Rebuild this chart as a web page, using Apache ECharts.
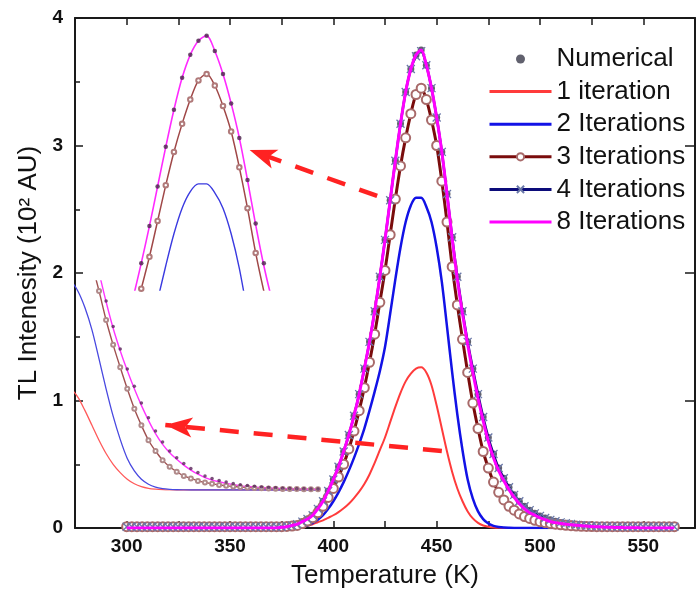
<!DOCTYPE html>
<html>
<head>
<meta charset="utf-8">
<script src="https://cdn.jsdelivr.net/npm/echarts@6/dist/echarts.min.js"></script>
<style>
  html, body { margin: 0; padding: 0; background: #fff; }
  #chart { width: 698px; height: 602px; }
</style>
</head>
<body>
<div id="chart"></div>
<script>
// Temperature samples (K)
const temps = [
  300,302.5,305,307.5,310,312.5,315,317.5,320,322.5,
  325,327.5,330,332.5,335,337.5,340,342.5,345,347.5,
  350,352.5,355,357.5,360,362.5,365,367.5,370,372.5,
  375,377.5,380,382.5,385,387.5,390,392.5,395,397.5,
  400,402.5,405,407.5,410,412.5,415,417.5,420,422.5,
  425,427.5,430,432.5,435,437.5,440,442.5,445,447.5,
  450,452.5,455,457.5,460,462.5,465,467.5,470,472.5,
  475,477.5,480,482.5,485,487.5,490,492.5,495,497.5,
  500,502.5,505,507.5,510,512.5,515,517.5,520,522.5,
  525,527.5,530,532.5,535,537.5,540,542.5,545,547.5,
  550,552.5,555,557.5,560,562.5,565
];

// TL intensity (10^2 AU)
const numerical = [
  0.01,0.01,0.01,0.01,0.01,0.01,0.01,0.01,0.01,0.01,
  0.01,0.01,0.01,0.01,0.01,0.01,0.01,0.01,0.01,0.01,
  0.01,0.01,0.01,0.01,0.01,0.01,0.01,0.01,0.01,0.01,
  0.01,0.015,0.02,0.03,0.05,0.07,0.10,0.15,0.21,0.29,
  0.38,0.48,0.60,0.73,0.88,1.05,1.25,1.46,1.70,1.97,
  2.26,2.57,2.88,3.17,3.42,3.60,3.71,3.75,3.63,3.45,
  3.22,2.95,2.62,2.28,1.97,1.70,1.46,1.25,1.05,0.87,
  0.71,0.58,0.47,0.39,0.32,0.26,0.21,0.17,0.14,0.115,
  0.095,0.078,0.064,0.053,0.044,0.037,0.031,0.026,0.022,0.019,
  0.016,0.014,0.013,0.012,0.011,0.01,0.01,0.01,0.01,0.01,
  0.01,0.01,0.01,0.01,0.01,0.01,0.01
];

const oneIteration = [
  0,0,0,0,0,0,0,0,0,0,
  0,0,0,0,0,0,0,0,0,0,
  0,0,0,0,0,0,0,0,0,0,
  0,0.002,0.004,0.008,0.013,0.02,0.03,0.045,0.06,0.08,
  0.10,0.125,0.155,0.19,0.235,0.285,0.345,0.42,0.51,0.61,
  0.71,0.83,0.95,1.06,1.15,1.21,1.25,1.26,1.22,1.12,
  0.96,0.78,0.60,0.44,0.31,0.21,0.13,0.075,0.04,0.02,
  0.01,0.004,0.001,0,0,0,0,0,0,0,
  0,0,0,0,0,0,0,0,0,0,
  0,0,0,0,0,0,0,0,0,0,
  0,0,0,0,0,0,0
];

const twoIterations = [
  0,0,0,0,0,0,0,0,0,0,
  0,0,0,0,0,0,0,0,0,0,
  0,0,0,0,0,0,0,0,0,0,
  0,0.002,0.005,0.008,0.012,0.02,0.04,0.065,0.10,0.15,
  0.21,0.28,0.36,0.45,0.55,0.66,0.78,0.92,1.07,1.23,
  1.42,1.68,1.95,2.20,2.40,2.53,2.59,2.59,2.52,2.40,
  2.20,1.93,1.58,1.22,0.89,0.61,0.38,0.23,0.13,0.07,
  0.035,0.017,0.008,0.003,0.001,0,0,0,0,0,
  0,0,0,0,0,0,0,0,0,0,
  0,0,0,0,0,0,0,0,0,0,
  0,0,0,0,0,0,0
];

const threeIterations = [
  0.01,0.01,0.01,0.01,0.01,0.01,0.01,0.01,0.01,0.01,
  0.01,0.01,0.01,0.01,0.01,0.01,0.01,0.01,0.01,0.01,
  0.01,0.01,0.01,0.01,0.01,0.01,0.01,0.01,0.01,0.01,
  0.01,0.012,0.015,0.02,0.035,0.055,0.08,0.12,0.17,0.24,
  0.31,0.40,0.50,0.62,0.76,0.92,1.10,1.30,1.52,1.77,
  2.02,2.30,2.58,2.84,3.06,3.25,3.40,3.45,3.36,3.20,
  3.00,2.72,2.40,2.05,1.75,1.48,1.22,0.98,0.78,0.60,
  0.47,0.36,0.28,0.22,0.17,0.14,0.11,0.09,0.075,0.06,
  0.05,0.042,0.035,0.03,0.025,0.021,0.018,0.015,0.013,0.012,
  0.011,0.01,0.01,0.01,0.01,0.01,0.01,0.01,0.01,0.01,
  0.01,0.01,0.01,0.01,0.01,0.01,0.01
];

const fourIterations = [
  0.01,0.01,0.01,0.01,0.01,0.01,0.01,0.01,0.01,0.01,
  0.01,0.01,0.01,0.01,0.01,0.01,0.01,0.01,0.01,0.01,
  0.01,0.01,0.01,0.01,0.01,0.01,0.01,0.01,0.01,0.01,
  0.01,0.015,0.02,0.03,0.05,0.07,0.10,0.15,0.21,0.29,
  0.38,0.48,0.60,0.73,0.88,1.05,1.25,1.46,1.70,1.97,
  2.26,2.57,2.88,3.17,3.42,3.60,3.70,3.74,3.63,3.45,
  3.22,2.95,2.62,2.28,1.97,1.70,1.46,1.25,1.05,0.87,
  0.71,0.58,0.47,0.39,0.32,0.26,0.21,0.17,0.14,0.115,
  0.095,0.078,0.064,0.053,0.044,0.037,0.031,0.026,0.022,0.019,
  0.016,0.014,0.013,0.012,0.011,0.01,0.01,0.01,0.01,0.01,
  0.01,0.01,0.01,0.01,0.01,0.01,0.01
];

const eightIterations = [
  0,0,0,0,0,0,0,0,0,0,
  0,0,0,0,0,0,0,0,0,0,
  0,0,0,0,0,0,0,0,0,0,
  0.005,0.01,0.02,0.03,0.05,0.07,0.10,0.15,0.21,0.29,
  0.38,0.48,0.60,0.73,0.88,1.05,1.25,1.46,1.70,1.97,
  2.26,2.57,2.88,3.17,3.42,3.60,3.71,3.75,3.63,3.45,
  3.22,2.95,2.62,2.27,1.95,1.68,1.44,1.22,1.02,0.84,
  0.68,0.55,0.45,0.37,0.30,0.24,0.19,0.15,0.12,0.10,
  0.08,0.065,0.05,0.042,0.035,0.03,0.025,0.021,0.018,0.015,
  0.012,0.01,0.008,0.006,0.005,0.004,0.003,0.002,0.002,0.001,
  0,0,0,0,0,0,0
];

// Legend entries
const seriesNames = ['Numerical', '1 iteration', '2 Iterations', '3 Iterations', '4 Iterations', '8 Iterations'];

// Dashed call-out arrows: [T, intensity] tail and head
const arrowTails = [[421.2, 2.604], [452.5, 0.604]];
const arrowHeads = [[359.5, 2.965], [318.7, 0.808]];

// Zoom windows for the two detail views [min, max]
const peakDetailT = [416, 468];
const peakDetailI = [1.76, 3.81];
const tailDetailT = [446.5, 532.5];
const tailDetailI = [0, 2.52];

const FONT = "'Liberation Sans', Arial, Helvetica, sans-serif";
const AXIS_COLOR = '#1a1a1a';
const X_MARK = 'path://M0,0L10,10M10,0L0,10';
const SMOOTH = 0.3;

const pairs = vals => temps.map((t, i) => [t, vals[i]]);

const chart = echarts.init(document.getElementById('chart'), null, { renderer: 'canvas' });

const hiddenAxis = (grid, range) => ({ type: 'value', gridIndex: grid, min: range[0], max: range[1], show: false });

function detailLine(name, xi, vals, color, width, extra) {
  return Object.assign({
    name: name, type: 'line', xAxisIndex: xi, yAxisIndex: xi,
    data: pairs(vals), symbol: 'none', clip: true, silent: true,
    smooth: SMOOTH,
    lineStyle: { color: color, width: width }, itemStyle: { color: color },
    z: 5
  }, extra || {});
}

function mainLine(name, vals, extra) {
  return Object.assign({
    name: name, type: 'line', xAxisIndex: 0, yAxisIndex: 0,
    data: pairs(vals), symbol: 'none', silent: true,
    smooth: SMOOTH, z: 3
  }, extra);
}

const option = {
  animation: false,
  backgroundColor: '#ffffff',
  textStyle: { fontFamily: FONT },
  grid: [
    { left: 75, top: 18, width: 632, height: 510 },
    { left: 120, top: 28, width: 170, height: 262 },
    { left: 75, top: 281, width: 243, height: 209 }
  ],
  legend: {
    orient: 'vertical', left: 483, top: 41,
    itemWidth: 62, itemHeight: 9, itemGap: 6.6,
    selectedMode: false,
    textStyle: { fontSize: 26, color: '#111', lineHeight: 26, fontFamily: FONT },
    lineStyle: { width: 3 },
    data: [
      { name: seriesNames[0], icon: 'circle' },
      { name: seriesNames[1], itemStyle: { opacity: 0 } },
      { name: seriesNames[2], itemStyle: { opacity: 0 } },
      { name: seriesNames[3] },
      { name: seriesNames[4] },
      { name: seriesNames[5], itemStyle: { opacity: 0 } }
    ]
  },
  xAxis: [
    {
      type: 'value', gridIndex: 0, position: 'bottom', min: 275, max: 575, interval: 25,
      name: 'Temperature (K)', nameLocation: 'middle', nameGap: 35,
      nameTextStyle: { fontSize: 26, color: '#111', fontFamily: FONT },
      axisLine: { onZero: false, lineStyle: { color: AXIS_COLOR, width: 2 } },
      axisTick: { inside: true, length: 7, lineStyle: { color: AXIS_COLOR, width: 1.5 } },
      axisLabel: {
        margin: 9, fontSize: 19, fontWeight: 'bold', color: '#111', fontFamily: FONT,
        formatter: v => (v % 50 === 0 ? String(v) : '')
      },
      splitLine: { show: false }
    },
    {
      type: 'value', gridIndex: 0, position: 'top', min: 275, max: 575, interval: 25,
      axisLine: { onZero: false, lineStyle: { color: AXIS_COLOR, width: 2 } },
      axisTick: { inside: true, length: 7, lineStyle: { color: AXIS_COLOR, width: 1.5 } },
      axisLabel: { show: false },
      splitLine: { show: false }
    },
    hiddenAxis(1, peakDetailT),
    hiddenAxis(2, tailDetailT)
  ],
  yAxis: [
    {
      type: 'value', gridIndex: 0, position: 'left', min: 0, max: 4, interval: 1,
      name: 'TL Intenesity (10² AU)', nameLocation: 'middle', nameGap: 33,
      nameTextStyle: { fontSize: 26, color: '#111', fontFamily: FONT },
      axisLine: { onZero: false, lineStyle: { color: AXIS_COLOR, width: 2 } },
      axisTick: { inside: true, length: 8, lineStyle: { color: AXIS_COLOR, width: 1.5 } },
      minorTick: { show: true, splitNumber: 2, length: 5, lineStyle: { color: AXIS_COLOR, width: 1.5 } },
      axisLabel: { margin: 12, fontSize: 19, fontWeight: 'bold', color: '#111', fontFamily: FONT },
      splitLine: { show: false },
      minorSplitLine: { show: false }
    },
    {
      type: 'value', gridIndex: 0, position: 'right', min: 0, max: 4, interval: 1,
      axisLine: { onZero: false, lineStyle: { color: AXIS_COLOR, width: 2 } },
      axisTick: { inside: true, length: 10, lineStyle: { color: AXIS_COLOR, width: 1.5 } },
      axisLabel: { show: false },
      splitLine: { show: false }
    },
    hiddenAxis(1, peakDetailI),
    hiddenAxis(2, tailDetailI)
  ],
  series: [
    {
      name: seriesNames[0], type: 'scatter', xAxisIndex: 0, yAxisIndex: 0,
      data: pairs(numerical), symbol: 'circle', symbolSize: 7,
      itemStyle: { color: '#3a3a4a' }, z: 2, silent: true
    },
    mainLine(seriesNames[1], oneIteration, {
      lineStyle: { color: '#ff3b3b', width: 2 }, itemStyle: { color: '#ff3b3b' },
      markLine: {
        silent: true, symbol: ['none', 'arrow'], symbolSize: [15, 27],
        label: { show: false },
        lineStyle: { color: '#ff2222', width: 4.5, type: [19, 15] },
        data: arrowTails.map((a, i) => [{ coord: a }, { coord: arrowHeads[i] }])
      }
    }),
    mainLine(seriesNames[2], twoIterations, {
      lineStyle: { color: '#1212e6', width: 2.5 }, itemStyle: { color: '#1212e6' }
    }),
    mainLine(seriesNames[3], threeIterations, {
      symbol: 'emptyCircle', symbolSize: 9,
      lineStyle: { color: '#7a0c0c', width: 3 },
      itemStyle: { color: '#a86a6a', borderWidth: 1.3 }
    }),
    mainLine(seriesNames[4], fourIterations, {
      symbol: X_MARK, symbolSize: 8,
      lineStyle: { color: '#0c0c7a', width: 2.5 },
      itemStyle: { color: 'rgba(0,0,0,0)', borderColor: '#6a78a8', borderWidth: 1.3 }
    }),
    mainLine(seriesNames[5], eightIterations, {
      lineStyle: { color: '#ff00ff', width: 3 }, itemStyle: { color: '#ff00ff' }, z: 4
    }),

    // Peak detail view
    detailLine('peak 2 Iterations', 2, twoIterations, '#3a3ae0', 1.4),
    detailLine('peak 3 Iterations', 2, threeIterations, '#a04848', 1.5, {
      symbol: 'emptyCircle', symbolSize: 4.5,
      itemStyle: { color: '#b07a7a', borderWidth: 1 }
    }),
    detailLine('peak 8 Iterations', 2, eightIterations, '#ff2aff', 1.6),
    {
      name: 'peak Numerical', type: 'scatter', xAxisIndex: 2, yAxisIndex: 2,
      data: pairs(numerical), symbolSize: 4.5, clip: true, silent: true,
      itemStyle: { color: '#4a244a' }, z: 6
    },

    // Tail detail view
    detailLine('tail 1 iteration', 3, oneIteration, '#ff5a5a', 1.3),
    detailLine('tail 2 Iterations', 3, twoIterations, '#4848e0', 1.3),
    detailLine('tail 3 Iterations', 3, threeIterations, '#a05050', 1.4, {
      symbol: 'emptyCircle', symbolSize: 4,
      itemStyle: { color: '#b08a8a', borderWidth: 1 }
    }),
    detailLine('tail 8 Iterations', 3, eightIterations, '#ff33ff', 1.4),
    {
      name: 'tail Numerical', type: 'scatter', xAxisIndex: 3, yAxisIndex: 3,
      data: pairs(numerical), symbolSize: 3.5, clip: true, silent: true,
      itemStyle: { color: '#5a245a' }, z: 6
    }
  ]
};

chart.setOption(option);
</script>
</body>
</html>
